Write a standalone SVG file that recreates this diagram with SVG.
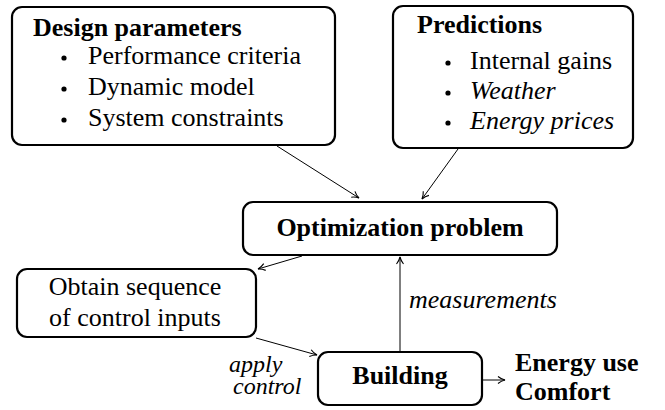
<svg xmlns="http://www.w3.org/2000/svg" width="665" height="410" viewBox="0 0 665 410">
<defs>
<style>
.nodebox{fill:#fff;stroke:#000;stroke-width:2.2}
.conn{stroke:#000;stroke-width:1;fill:none}
</style>
<marker id="arr" viewBox="0 0 10 10" refX="9" refY="5" markerWidth="10" markerHeight="10" markerUnits="userSpaceOnUse" orient="auto">
<path d="M2,1.5 Q5,4 9,5 Q5,6 2,8.5" fill="none" stroke="#000" stroke-width="1.1"/>
</marker>
</defs>
<rect width="665" height="410" fill="#fff"/>
<g id="design">
<rect class="nodebox" x="12" y="7" width="323" height="138" rx="10"/>
<text font-family="Liberation Serif, serif" font-size="26" font-weight="bold" x="33" y="36">Design parameters</text>
<circle cx="64" cy="58" r="2.6"/>
<text font-family="Liberation Serif, serif" font-size="26" x="88" y="64">Performance criteria</text>
<circle cx="64" cy="89" r="2.6"/>
<text font-family="Liberation Serif, serif" font-size="26" x="88" y="95">Dynamic model</text>
<circle cx="64" cy="120" r="2.6"/>
<text font-family="Liberation Serif, serif" font-size="26" x="88" y="126">System constraints</text>
</g>
<g id="predictions">
<rect class="nodebox" x="393" y="6" width="240" height="142" rx="10"/>
<text font-family="Liberation Serif, serif" font-size="26" font-weight="bold" x="417" y="33">Predictions</text>
<circle cx="448" cy="63" r="2.6"/>
<text font-family="Liberation Serif, serif" font-size="26" x="470" y="69">Internal gains</text>
<circle cx="448" cy="93" r="2.6"/>
<text font-family="Liberation Serif, serif" font-size="26" font-style="italic" x="470" y="99">Weather</text>
<circle cx="448" cy="123" r="2.6"/>
<text font-family="Liberation Serif, serif" font-size="26" font-style="italic" x="470" y="129">Energy prices</text>
</g>
<g id="optimization">
<rect class="nodebox" x="243" y="202" width="314" height="53" rx="10"/>
<text font-family="Liberation Serif, serif" font-size="26" font-weight="bold" text-anchor="middle" x="400" y="236">Optimization problem</text>
</g>
<g id="obtain">
<rect class="nodebox" x="17" y="269" width="239" height="68" rx="10"/>
<text font-family="Liberation Serif, serif" font-size="26" text-anchor="middle" x="135" y="295">Obtain sequence</text>
<text font-family="Liberation Serif, serif" font-size="26" text-anchor="middle" x="135" y="326">of control inputs</text>
</g>
<g id="building">
<rect class="nodebox" x="318" y="352" width="164" height="53" rx="10"/>
<text font-family="Liberation Serif, serif" font-size="26" font-weight="bold" text-anchor="middle" x="400" y="384">Building</text>
</g>
<g id="outputs">
<text font-family="Liberation Serif, serif" font-size="26" font-weight="bold" x="515" y="371">Energy use</text>
<text font-family="Liberation Serif, serif" font-size="26" font-weight="bold" x="515" y="400">Comfort</text>
</g>
<g id="connectors">
<line class="conn" marker-end="url(#arr)" x1="277" y1="146" x2="359" y2="198"/>
<line class="conn" marker-end="url(#arr)" x1="458" y1="149" x2="422" y2="199"/>
<line class="conn" marker-end="url(#arr)" x1="302" y1="256" x2="258" y2="269"/>
<line class="conn" marker-end="url(#arr)" x1="256" y1="338" x2="317" y2="355"/>
<line class="conn" marker-end="url(#arr)" x1="400" y1="352" x2="400" y2="257"/>
<line class="conn" marker-end="url(#arr)" x1="483" y1="380" x2="505" y2="380"/>
</g>
<g id="labels">
<text font-family="Liberation Serif, serif" font-size="26" font-style="italic" x="409" y="308">measurements</text>
<text font-family="Liberation Serif, serif" font-size="24" font-style="italic" x="229" y="372">apply</text>
<text font-family="Liberation Serif, serif" font-size="24" font-style="italic" x="233" y="394">control</text>
</g>
</svg>
